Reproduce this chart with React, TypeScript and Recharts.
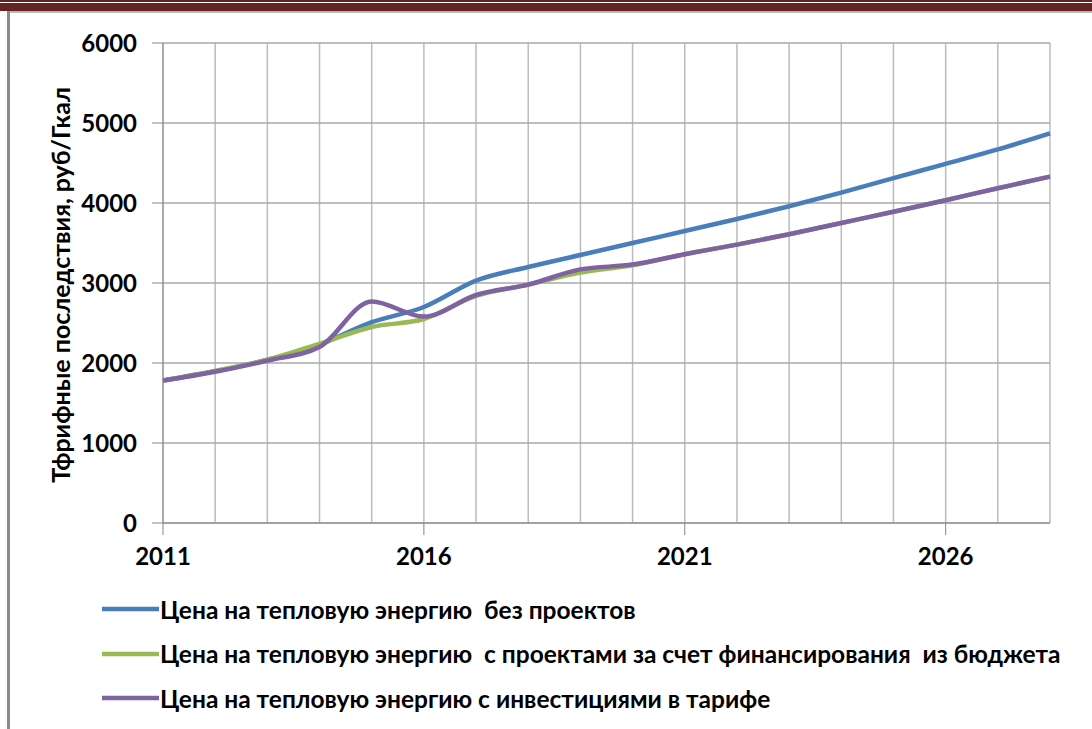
import { LineChart, Line, XAxis, YAxis, CartesianGrid, Legend } from 'recharts';

const years = [2011, 2012, 2013, 2014, 2015, 2016, 2017, 2018, 2019, 2020, 2021, 2022, 2023, 2024, 2025, 2026, 2027, 2028];
const noProjects = [1780, 1900, 2040, 2230, 2510, 2700, 3030, 3200, 3350, 3500, 3650, 3800, 3960, 4130, 4310, 4490, 4670, 4870];
const budgetProjects = [1780, 1900, 2040, 2240, 2450, 2550, 2840, 2980, 3130, 3220, 3360, 3480, 3610, 3750, 3890, 4035, 4185, 4330];
const tariffInvest = [1780, 1890, 2030, 2200, 2770, 2580, 2850, 2980, 3170, 3230, 3360, 3480, 3610, 3750, 3890, 4035, 4185, 4330];

const xTicks = [2011, 2016, 2021, 2026];
const yTicks = [0, 1000, 2000, 3000, 4000, 5000, 6000];

const seriesNames = [
  'Цена на тепловую энергию  без проектов',
  'Цена на тепловую энергию  с проектами за счет финансирования  из бюджета',
  'Цена на тепловую энергию с инвестициями в тарифе',
];
const yTitle = 'Тфрифные последствия, руб/Гкал';

const data = years.map((year, i) => ({
  year,
  noProjects: noProjects[i],
  budgetProjects: budgetProjects[i],
  tariffInvest: tariffInvest[i],
}));

const FONT = 'Lato, "Open Sans", sans-serif';
const tickStyle = { fontSize: 24, fontWeight: 700, fill: '#000', fontFamily: FONT };

function LegendRows({ payload }: { payload?: { value: string; color: string }[] }) {
  return (
    <div>
      {(payload || []).map((p) => (
        <div key={p.value} style={{ display: 'flex', alignItems: 'center', height: 44.5 }}>
          <svg width={57} height={8} style={{ flex: 'none' }}>
            <line x1={0} y1={4} x2={57} y2={4} stroke={p.color} strokeWidth={4.5} />
          </svg>
          <span style={{ fontFamily: FONT, fontWeight: 700, fontSize: 24.5, color: '#000', whiteSpace: 'pre', marginLeft: 1 }}>
            {p.value}
          </span>
        </div>
      ))}
    </div>
  );
}

export default function App() {
  return (
    <div style={{ position: 'absolute', left: 0, top: 0, width: 1092, height: 729, background: '#fff', overflow: 'hidden' }}>
      {/* page decoration: dark red header rule and grey frame */}
      <div style={{ position: 'absolute', left: 0, top: 0, width: 1092, height: 2, background: '#632523' }} />
      <div style={{ position: 'absolute', left: 0, top: 3, width: 1092, height: 8, background: '#632523' }} />
      <div style={{ position: 'absolute', left: 7, top: 11, width: 1085, height: 2, background: '#b8b8b8' }} />
      <div style={{ position: 'absolute', left: 7, top: 11, width: 3, height: 718, background: '#8c8c8c' }} />

      <div style={{ position: 'absolute', left: 0, top: 0 }}>
        <LineChart width={1092} height={729} data={data} margin={{ top: 43, right: 42, left: 0, bottom: 166 }}>
          <CartesianGrid horizontal={false} verticalValues={years} stroke="#bcbcbc" strokeWidth={1.5} />
          <CartesianGrid vertical={false} horizontalValues={yTicks} stroke="#a8a8a8" strokeWidth={1.5} />
          <XAxis
            dataKey="year"
            type="number"
            domain={[2011, 2028]}
            ticks={xTicks}
            height={40}
            tickSize={12}
            tickMargin={13}
            stroke="#868686"
            tick={tickStyle}
          />
          <YAxis
            domain={[0, 6000]}
            ticks={yTicks}
            width={163}
            tickSize={11}
            tickMargin={15}
            stroke="#868686"
            tick={tickStyle}
            label={{
              content: () => (
                <text
                  x={60}
                  y={285}
                  transform="rotate(-90 60 285)"
                  textAnchor="middle"
                  dominantBaseline="central"
                  style={{ fontFamily: FONT, fontWeight: 700, fontSize: 25, fill: '#000' }}
                >
                  {yTitle}
                </text>
              ),
            }}
          />
          <Line type="monotone" dataKey="noProjects" name={seriesNames[0]} stroke="#4a7ebb" strokeWidth={4.5} dot={false} isAnimationActive={false} />
          <Line type="monotone" dataKey="budgetProjects" name={seriesNames[1]} stroke="#98b954" strokeWidth={4.5} dot={false} isAnimationActive={false} />
          <Line type="monotone" dataKey="tariffInvest" name={seriesNames[2]} stroke="#7f62a1" strokeWidth={4.5} dot={false} isAnimationActive={false} />
          <Legend
            layout="horizontal"
            verticalAlign="middle"
            align="center"
            content={<LegendRows />}
            wrapperStyle={{ left: 102, top: 587, width: 985 }}
          />
        </LineChart>
      </div>
    </div>
  );
}
